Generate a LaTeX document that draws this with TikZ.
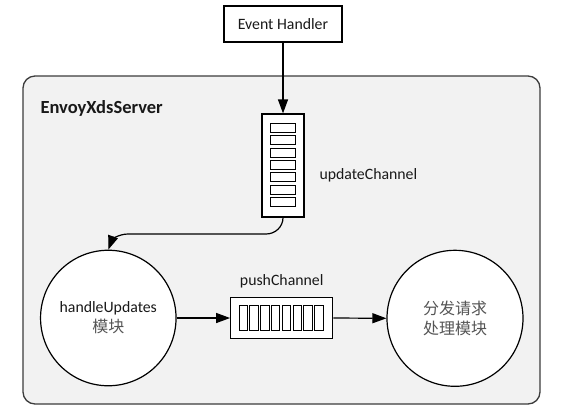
\documentclass[tikz,border=0pt]{standalone}
\usepackage{fontspec}
\setmainfont{Carlito}
\newfontfamily\cjkfont{Noto Sans CJK SC}
\usetikzlibrary{arrows.meta,shapes.geometric}
\definecolor{panelfill}{HTML}{F2F2F2}
\definecolor{panelline}{HTML}{3C3C3C}
\definecolor{cjkgray}{HTML}{555555}
\tikzset{
  every node/.style={font=\fontsize{15.8}{18}\selectfont, text=black!90},
  panel/.style={draw=panelline, line width=1.3pt, fill=panelfill, rounded corners=12pt, minimum width=517pt, minimum height=328pt, inner sep=0pt},
  handlerbox/.style={draw, line width=1.2pt, fill=white, minimum width=118pt, minimum height=36pt, inner sep=0pt},
  chanbox/.style={draw, line width=1.2pt, fill=white, inner sep=0pt},
  slotbox/.style={draw, line width=0.9pt, inner sep=0pt},
  modcircle/.style={circle, draw, line width=1.2pt, fill=white, inner sep=0pt, align=center},
  arr/.style={line width=1.2pt, -{Triangle[length=14pt,width=10pt]}},
  cjk/.style={font=\cjkfont\fontsize{16}{20}\selectfont, text=cjkgray}
}
\begin{document}
\begin{tikzpicture}[x=1pt,y=1pt]
\useasboundingbox (0,0) rectangle (564,-416);
% server panel
\node[panel] (srv) at (281.5,-240) {};
\node[anchor=west, font=\fontsize{18.5}{22}\selectfont\bfseries] (title) at (37,-108) {EnvoyXdsServer};
% event handler
\node[handlerbox] (eh) at (283,-24) {Event Handler};
% update channel
\node[chanbox, minimum width=42pt, minimum height=103pt] (upd) at (283,-165.5) {};
\foreach \i in {0,...,6} {
  \node[slotbox, minimum width=25pt, minimum height=9pt] (us\i) at (283,{-127.8-12.4*\i}) {};
}
\node[anchor=west] (updlbl) at (316,-175) {updateChannel};
% modules
\node[modcircle, minimum size=135.5pt] (hu) at (108.3,-318) {handleUpdates\\[2pt]{\cjkfont\fontsize{16}{18}\selectfont\color{cjkgray}模块}};
\node[modcircle, minimum size=136pt, cjk] (ps) at (455,-318.3) {分发请求\\[0pt]处理模块};
% push channel
\node[chanbox, minimum width=102pt, minimum height=40.6pt] (push) at (281.7,-318) {};
\foreach \i in {0,...,7} {
  \node[slotbox, minimum width=8.5pt, minimum height=24.3pt] (ps\i) at ({243.25+10.8*\i},-317.9) {};
}
\node (pushlbl) at (281.7,-281) {pushChannel};
% connectors
\draw[arr] (eh.south) -- (upd.north);
\draw[arr] (upd.south) to[out=-90,in=0] (266,-234) -- (128,-234) to[out=180,in=70] (hu.north);
\draw[arr] (hu.east) -- (push.west);
\draw[arr] (push.east) -- (ps.west);
\end{tikzpicture}
\end{document}
